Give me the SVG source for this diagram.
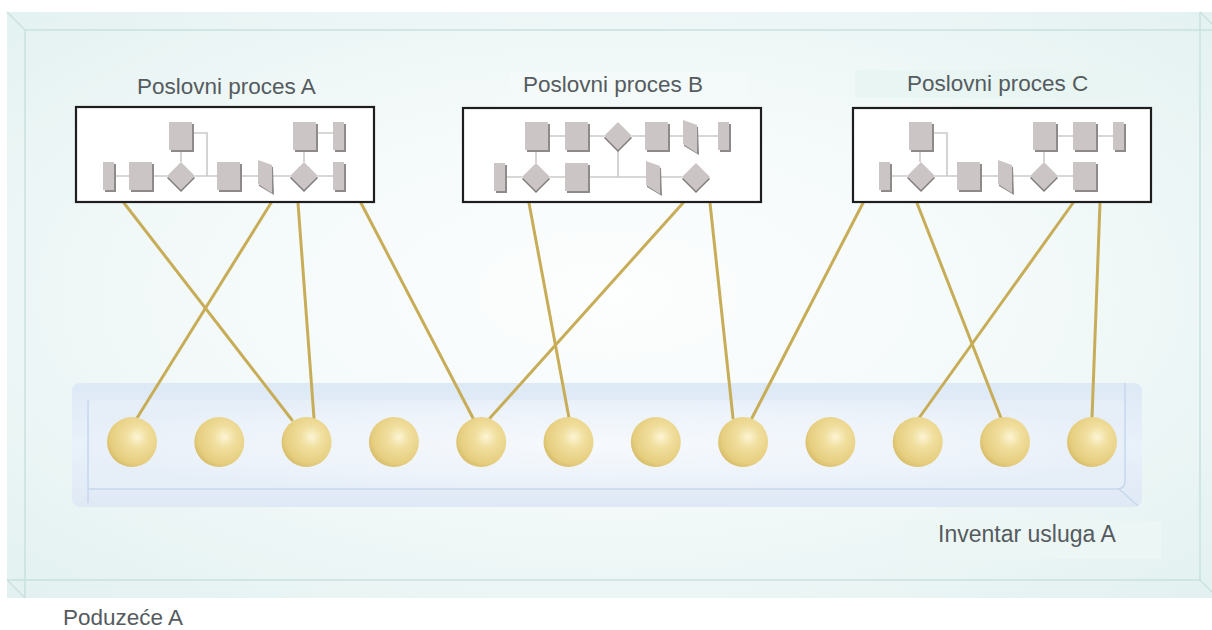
<svg xmlns="http://www.w3.org/2000/svg" xmlns:xlink="http://www.w3.org/1999/xlink" width="1212" height="630" viewBox="0 0 1212 630">
<style>
.lbl{font-family:"Liberation Sans",Arial,sans-serif;fill:#555b5e;}
.edge{stroke:#c9e1df;stroke-width:1.5;fill:none;}
.pbox{fill:#ffffff;stroke:#1e1e1e;stroke-width:2.2;}
.fl{stroke:#cdc9c9;stroke-width:1.6;fill:none;}
.con{stroke:#c8ad58;stroke-width:3;fill:none;stroke-linecap:round;}
</style>
<defs>
<radialGradient id="bg" cx="0.5" cy="0.48" r="0.72">
<stop offset="0" stop-color="#fdfefe"/>
<stop offset="0.5" stop-color="#f3f9f9"/>
<stop offset="1" stop-color="#e2f1f0"/>
</radialGradient>
<linearGradient id="tray" x1="0" y1="0" x2="0" y2="1">
<stop offset="0" stop-color="#dde9f6"/>
<stop offset="0.5" stop-color="#e9f1fa"/>
<stop offset="1" stop-color="#dfe9f5"/>
</linearGradient>
<radialGradient id="trayin" cx="0.5" cy="0.5" r="0.55">
<stop offset="0" stop-color="#f6f9fd"/>
<stop offset="0.7" stop-color="#edf3fa"/>
<stop offset="1" stop-color="#e6eef8"/>
</radialGradient>
<radialGradient id="ball" cx="0.6" cy="0.4" r="0.62">
<stop offset="0" stop-color="#fcf5d4"/>
<stop offset="0.35" stop-color="#f1df9f"/>
<stop offset="0.85" stop-color="#e6ce7f"/>
<stop offset="1" stop-color="#dac06e"/>
</radialGradient>
<g id="sq"><rect x="2" y="2" width="23" height="28" fill="#8e8a8a"/><rect x="0" y="0" width="23" height="28" fill="#cbc5c5"/></g>
<g id="bar"><rect x="2" y="2" width="11" height="28" fill="#8e8a8a"/><rect x="0" y="0" width="11" height="28" fill="#cbc5c5"/></g>
<g id="dm"><polygon points="14,2 28,16 14,30 0,16" fill="#7f7b7b"/><polygon points="14,0 28,14 14,28 0,14" fill="#cbc5c5"/></g>
<g id="tp"><polygon points="1,2 15,7 16,35 1,26" fill="#8e8a8a"/><polygon points="0,0 14,5 14,33 0,24" fill="#cbc5c5"/></g>
</defs>

<!-- enterprise glass box -->
<g id="enterprise">
<rect x="7" y="12" width="1205" height="586" fill="url(#bg)"/>
<line class="edge" x1="25" y1="30" x2="1212" y2="30"/>
<line class="edge" x1="25" y1="30" x2="25" y2="598"/>
<line class="edge" x1="7" y1="580" x2="1200" y2="580"/>
<line class="edge" x1="1200" y1="12" x2="1200" y2="580"/>
<line class="edge" x1="7" y1="12" x2="25" y2="30"/>
<line class="edge" x1="7" y1="580" x2="25" y2="598"/>
<line class="edge" x1="1200" y1="12" x2="1212" y2="24"/>
<line class="edge" x1="1200" y1="580" x2="1212" y2="592"/>
<text class="lbl" x="63" y="625" font-size="22.5">Poduzeće A</text>
</g>

<!-- service inventory tray -->
<g id="inventory">
<rect x="72" y="383" width="1070" height="124" rx="8" fill="url(#tray)"/>
<rect x="88" y="400" width="1037" height="89" rx="8" fill="url(#trayin)"/>
<line x1="88" y1="400" x2="88" y2="503" stroke="#c6d7eb" stroke-width="1.5"/>
<path d="M88,489 H1117 Q1125,489 1125,481 V383" stroke="#c6d7eb" stroke-width="1.5" fill="none"/>
<line x1="1119" y1="489" x2="1138" y2="506" stroke="#c6d7eb" stroke-width="1.5"/>
<rect x="903" y="521" width="258" height="38" fill="#ecf6f5"/>
<text class="lbl" x="938" y="542" font-size="23">Inventar usluga A</text>
</g>

<!-- connectors -->
<g id="connectors">
<line class="con" x1="124" y1="203" x2="292" y2="420"/>
<line class="con" x1="271" y1="203" x2="137" y2="418"/>
<line class="con" x1="298" y1="203" x2="314" y2="418"/>
<line class="con" x1="361" y1="203" x2="473" y2="418"/>
<line class="con" x1="529" y1="203" x2="569" y2="418"/>
<line class="con" x1="683" y1="203" x2="490" y2="418"/>
<line class="con" x1="710" y1="203" x2="733" y2="418"/>
<line class="con" x1="863" y1="203" x2="752" y2="418"/>
<line class="con" x1="917" y1="203" x2="1001" y2="418"/>
<line class="con" x1="1073" y1="203" x2="919" y2="418"/>
<line class="con" x1="1100" y1="203" x2="1092" y2="418"/>
</g>

<!-- services -->
<g id="services">
<circle id="s1" cx="132" cy="442" r="25" fill="url(#ball)"/>
<circle id="s2" cx="219.3" cy="442" r="25" fill="url(#ball)"/>
<circle id="s3" cx="306.6" cy="442" r="25" fill="url(#ball)"/>
<circle id="s4" cx="393.9" cy="442" r="25" fill="url(#ball)"/>
<circle id="s5" cx="481.2" cy="442" r="25" fill="url(#ball)"/>
<circle id="s6" cx="568.5" cy="442" r="25" fill="url(#ball)"/>
<circle id="s7" cx="655.8" cy="442" r="25" fill="url(#ball)"/>
<circle id="s8" cx="743.1" cy="442" r="25" fill="url(#ball)"/>
<circle id="s9" cx="830.4" cy="442" r="25" fill="url(#ball)"/>
<circle id="s10" cx="917.7" cy="442" r="25" fill="url(#ball)"/>
<circle id="s11" cx="1005" cy="442" r="25" fill="url(#ball)"/>
<circle id="s12" cx="1092" cy="442" r="25" fill="url(#ball)"/>
</g>

<!-- Process A -->
<g id="processA">
<text class="lbl" x="137" y="94" font-size="22.5">Poslovni proces A</text>
<rect class="pbox" x="76" y="107" width="298" height="95"/>
<path class="fl" d="M115,176H129 M152,176H167 M195,176H217 M239,176H258 M272,176H290 M318,176H333 M181,150V162 M192,133H207V176 M304,150V162 M315,133H333"/>
<use xlink:href="#bar" x="103" y="162"/>
<use xlink:href="#sq" x="129" y="162"/>
<use xlink:href="#dm" x="167" y="162"/>
<use xlink:href="#sq" x="169" y="122"/>
<use xlink:href="#sq" x="217" y="162"/>
<use xlink:href="#tp" x="258" y="160"/>
<use xlink:href="#dm" x="290" y="162"/>
<use xlink:href="#sq" x="293" y="122"/>
<use xlink:href="#bar" x="333" y="122"/>
<use xlink:href="#bar" x="333" y="162"/>
</g>

<!-- Process B -->
<g id="processB">
<rect x="510" y="72" width="238" height="30" fill="#f4fafa"/>
<text class="lbl" x="523" y="92" font-size="22.5">Poslovni proces B</text>
<rect class="pbox" x="463" y="108" width="298" height="94"/>
<path class="fl" d="M547,136H565 M587,136H604 M632,136H645 M667,136H683 M697,136H718 M536,150V163 M618,150V177 M506,177H522 M550,177H565 M587,177H646 M660,177H682"/>
<use xlink:href="#sq" x="525" y="122"/>
<use xlink:href="#sq" x="565" y="122"/>
<use xlink:href="#dm" x="604" y="122"/>
<use xlink:href="#sq" x="645" y="122"/>
<use xlink:href="#tp" x="683" y="120"/>
<use xlink:href="#bar" x="718" y="122"/>
<use xlink:href="#bar" x="494" y="163"/>
<use xlink:href="#dm" x="522" y="163"/>
<use xlink:href="#sq" x="565" y="163"/>
<use xlink:href="#tp" x="646" y="161"/>
<use xlink:href="#dm" x="682" y="163"/>
</g>

<!-- Process C -->
<g id="processC">
<rect x="855" y="70" width="287" height="28" fill="#e8f5f3"/>
<text class="lbl" x="907" y="91" font-size="22.5">Poslovni proces C</text>
<rect class="pbox" x="853" y="108" width="298" height="94"/>
<path class="fl" d="M920,150V162 M931,133H947V176 M891,176H907 M935,176H957 M980,176H998 M1012,176H1030 M1058,176H1073 M1044,150V162 M1056,136H1073 M1096,136H1113"/>
<use xlink:href="#sq" x="909" y="122"/>
<use xlink:href="#bar" x="879" y="162"/>
<use xlink:href="#dm" x="907" y="162"/>
<use xlink:href="#sq" x="957" y="162"/>
<use xlink:href="#tp" x="998" y="160"/>
<use xlink:href="#dm" x="1030" y="162"/>
<use xlink:href="#sq" x="1073" y="162"/>
<use xlink:href="#sq" x="1033" y="122"/>
<use xlink:href="#sq" x="1073" y="122"/>
<use xlink:href="#bar" x="1113" y="122"/>
</g>
</svg>
